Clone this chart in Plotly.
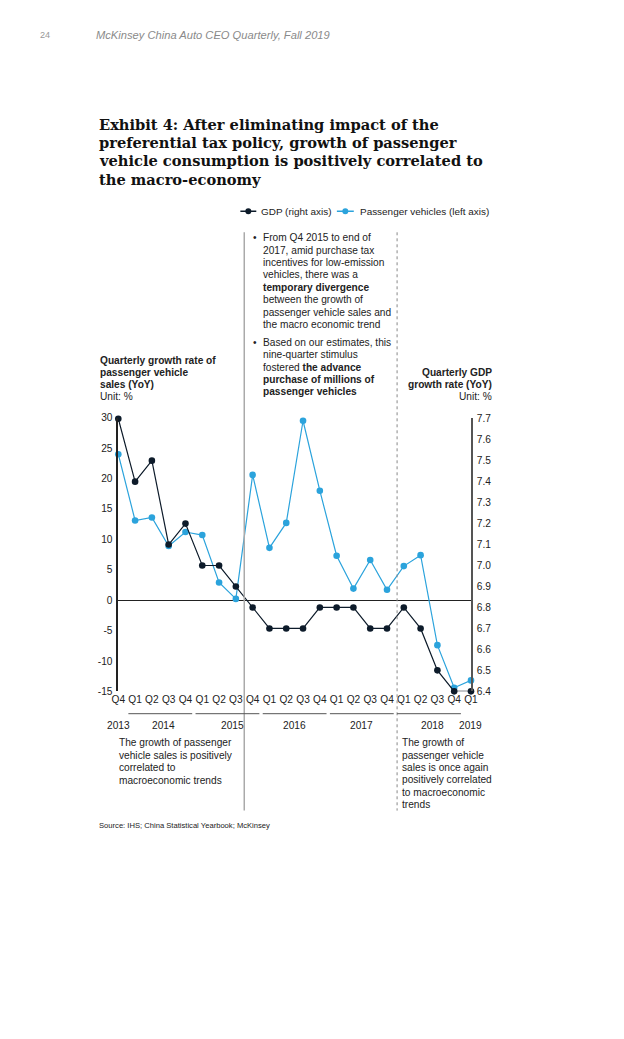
import plotly.graph_objects as go

# ---------------- data ----------------
quarters = ["Q4", "Q1", "Q2", "Q3", "Q4", "Q1", "Q2", "Q3", "Q4", "Q1", "Q2",
            "Q3", "Q4", "Q1", "Q2", "Q3", "Q4", "Q1", "Q2", "Q3", "Q4", "Q1"]
passenger_vehicles = [24.0, 13.1, 13.6, 8.9, 11.2, 10.7, 2.9, 0.2, 20.6, 8.6, 12.7,
                      29.5, 18.0, 7.3, 1.9, 6.6, 1.7, 5.6, 7.4, -7.4, -14.4, -13.2]
gdp = [7.7, 7.4, 7.5, 7.1, 7.2, 7.0, 7.0, 6.9, 6.8, 6.7, 6.7,
       6.7, 6.8, 6.8, 6.8, 6.7, 6.7, 6.8, 6.7, 6.5, 6.4, 6.4]
year_labels = ["2013", "2014", "2015", "2016", "2017", "2018", "2019"]
year_label_pos = [0, 2.7, 6.8, 10.5, 14.5, 18.7, 21]
year_group_starts = [1, 5, 9, 13, 17]
left_ticks = [-15, -10, -5, 0, 5, 10, 15, 20, 25, 30]
left_tick_text = ["-15", "-10", "-5", "0", "5", "10", "15", "20", "25", "30"]
right_ticks = [6.4, 6.5, 6.6, 6.7, 6.8, 6.9, 7.0, 7.1, 7.2, 7.3, 7.4, 7.5, 7.6, 7.7]

PAGE_W, PAGE_H = 624, 1039
PAGE_MARGIN = 8          # default body margin of the html page
W, H = PAGE_W - 2 * PAGE_MARGIN, PAGE_H - 2 * PAGE_MARGIN
KX, CX = 0.982, 312.0    # observed shrink of the photographed page (x)
KY, CY = 0.987, 485.0    # observed shrink of the photographed page (y)
KF = 0.984
NAVY = "#0d1b2a"
BLUE = "#2ba3dc"
FONT = "Liberation Sans"


def fs(v):
    return v / KF


def px(x):
    X = CX + (x - CX) / KX
    return (X - PAGE_MARGIN) / W


def py(y):
    Y = CY + (y - CY) / KY
    return 1 - (Y - PAGE_MARGIN) / H


x_idx = list(range(len(quarters)))

fig = go.Figure()
fig.add_trace(go.Scatter(
    x=x_idx, y=gdp, yaxis="y2", mode="lines+markers", name="GDP (right axis)",
    line=dict(color=NAVY, width=1.2), marker=dict(color=NAVY, size=fs(6.5)),
    cliponaxis=False, showlegend=False))
fig.add_trace(go.Scatter(
    x=x_idx, y=passenger_vehicles, yaxis="y", mode="lines+markers",
    name="Passenger vehicles (left axis)",
    line=dict(color=BLUE, width=1.2), marker=dict(color=BLUE, size=fs(6.5)),
    cliponaxis=False, showlegend=False))

x0, x1 = 117.3, 471.8
ytop, ybot = 418, 691

fig.update_layout(
    width=W, height=H, margin=dict(l=0, r=0, t=0, b=0),
    paper_bgcolor="white", plot_bgcolor="white",
    font=dict(family=FONT, size=fs(10), color="#222"),
    xaxis=dict(domain=[px(x0), px(x1)], range=[0, 21], showgrid=False,
               zeroline=False, showline=False, ticks="",
               tickvals=x_idx, ticktext=quarters, ticklabelstandoff=0,
               tickfont=dict(size=fs(10), color="#222")),
    yaxis=dict(domain=[py(ybot), py(ytop)], range=[-15, 30], showgrid=False,
               zeroline=True, zerolinecolor="#222", zerolinewidth=1,
               showline=True, linecolor="#222", linewidth=1.5,
               tickvals=left_ticks, ticktext=left_tick_text, ticks="",
               ticklabelstandoff=2,
               tickfont=dict(size=fs(10), color="#222")),
    yaxis2=dict(overlaying="y", side="right", range=[6.4, 7.7048],
                showgrid=False, zeroline=False, showline=True,
                linecolor="#555", linewidth=1.5, anchor="x",
                tickvals=right_ticks, tickformat=".1f", ticks="",
                ticklabelstandoff=2,
                tickfont=dict(size=fs(10), color="#222")),
)

shapes = []
annotations = []

# vertical separators
shapes.append(dict(type="line", xref="x", yref="paper", x0=7.5, x1=7.5,
                   y0=py(233), y1=py(810), line=dict(color="#aaaaaa", width=1.5)))
shapes.append(dict(type="line", xref="x", yref="paper", x0=16.6, x1=16.6,
                   y0=py(233), y1=py(810), line=dict(color="#888888", width=1, dash="dot")))

# year group underlines
for s in year_group_starts:
    shapes.append(dict(type="line", xref="x", yref="paper", x0=s - 0.4, x1=s + 3.4,
                       y0=py(713.3), y1=py(713.3), line=dict(color="#555", width=1)))
for lab, pos in zip(year_labels, year_label_pos):
    annotations.append(dict(xref="x", yref="paper", x=pos, y=py(725), text=lab,
                            showarrow=False, xanchor="center", yanchor="middle",
                            font=dict(size=fs(10), color="#222")))


def text_block(lines, x, y_first, spacing, xanchor="left", size=10, color="#222",
               family=FONT):
    for i, ln in enumerate(lines):
        annotations.append(dict(xref="paper", yref="paper", x=px(x), y=py(y_first + i * spacing),
                                text=ln, showarrow=False, xanchor=xanchor, yanchor="middle",
                                align=xanchor, borderpad=0,
                                font=dict(size=fs(size), color=color, family=family)))


# header
text_block(["24"], 38, 36, 0, size=9, color="#999")
text_block(["<i>McKinsey China Auto CEO Quarterly, Fall 2019</i>"], 94, 36, 0, size=11, color="#8a8a8a")

# title
text_block(["<b>Exhibit 4: After eliminating impact of the</b>",
            "<b>preferential tax policy, growth of passenger</b>",
            "<b>vehicle consumption is positively correlated to</b>",
            "<b>the macro-economy</b>"], 97, 125, 18.3, size=14.4, color="#111",
           family="DejaVu Serif")

# legend (manual)
ly = 212
shapes.append(dict(type="line", xref="paper", yref="paper", x0=px(240), x1=px(256),
                   y0=py(ly), y1=py(ly), line=dict(color=NAVY, width=1.5)))
shapes.append(dict(type="circle", xref="paper", yref="paper", x0=px(245), x1=px(251),
                   y0=py(ly + 3), y1=py(ly - 3), fillcolor=NAVY, line=dict(color=NAVY, width=0)))
text_block(["GDP (right axis)"], 260, ly, 0, size=9.8)
shapes.append(dict(type="line", xref="paper", yref="paper", x0=px(337), x1=px(354),
                   y0=py(ly), y1=py(ly), line=dict(color=BLUE, width=1.5)))
shapes.append(dict(type="circle", xref="paper", yref="paper", x0=px(342.5), x1=px(348.5),
                   y0=py(ly + 3), y1=py(ly - 3), fillcolor=BLUE, line=dict(color=BLUE, width=0)))
text_block(["Passenger vehicles (left axis)"], 359, ly, 0, size=9.8)

# bullet texts
text_block(["•"], 252, 238.3, 0)
text_block(["From Q4 2015 to end of",
            "2017, amid purchase tax",
            "incentives for low-emission",
            "vehicles, there was a",
            "<b>temporary divergence</b>",
            "between the growth of",
            "passenger vehicle sales and",
            "the macro economic trend"], 261.5, 238.3, 12.4)
text_block(["•"], 252, 342.7, 0)
text_block(["Based on our estimates, this",
            "nine-quarter stimulus",
            "fostered <b>the advance</b>",
            "<b>purchase of millions of</b>",
            "<b>passenger vehicles</b>"], 261.5, 342.7, 12.4)

# axis titles
text_block(["<b>Quarterly growth rate of</b>",
            "<b>passenger vehicle</b>",
            "<b>sales (YoY)</b>",
            "Unit: %"], 98, 361, 12.0)
text_block(["<b>Quarterly GDP</b>",
            "<b>growth rate (YoY)</b>",
            "Unit: %"], 493.5, 373.3, 11.7, xanchor="right")

# bottom notes
text_block(["The growth of passenger",
            "vehicle sales is positively",
            "correlated to",
            "macroeconomic trends"], 117, 742.3, 12.4)
text_block(["The growth of",
            "passenger vehicle",
            "sales is once again",
            "positively correlated",
            "to macroeconomic",
            "trends"], 401.5, 742.3, 12.35)

# source
text_block(["Source: IHS; China Statistical Yearbook; McKinsey"], 97, 825, 0, size=7.5)

fig.update_layout(shapes=shapes, annotations=annotations)

fig.write_html("out.html", config={"displayModeBar": False})
